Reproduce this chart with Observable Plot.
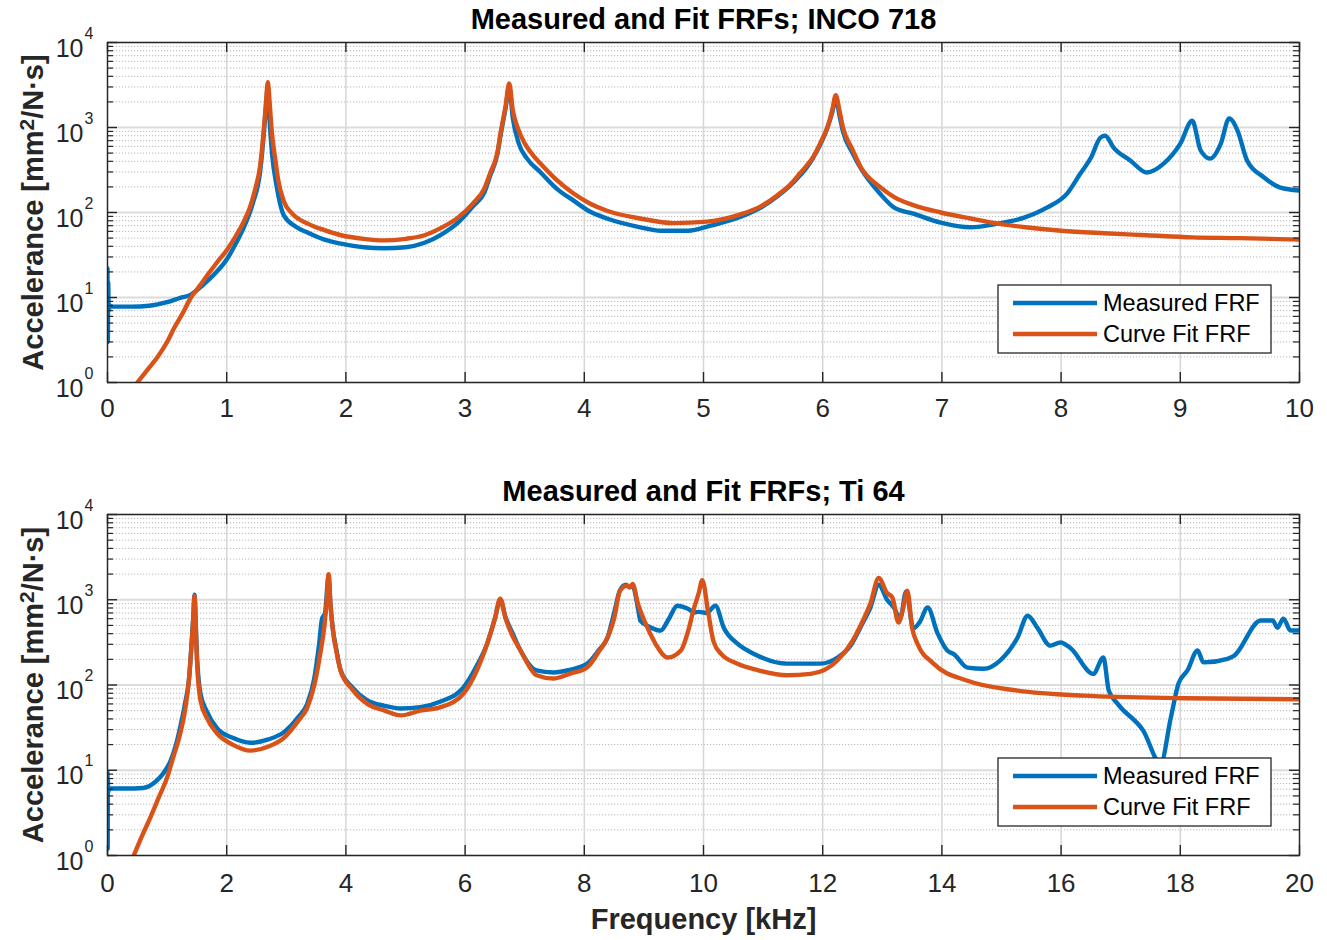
<!DOCTYPE html>
<html><head><meta charset="utf-8">
<script src="https://cdn.jsdelivr.net/npm/d3@7"></script>
<script src="https://cdn.jsdelivr.net/npm/@observablehq/plot@0.6"></script>
<style>
body{margin:0;background:#fff;}
#wrap{position:relative;width:1327px;height:940px;overflow:hidden;}
#top,#bottom{position:absolute;left:0;}
#top{top:0}#bottom{top:470px}
</style></head><body><div id="wrap"><div id="top"></div><div id="bottom"></div></div>
<script>
// ---------- data (frequency kHz, accelerance mm^2/(N·s)) ----------
const titles = ["Measured and Fit FRFs; INCO 718", "Measured and Fit FRFs; Ti 64"];
const seriesNames = ["Measured FRF", "Curve Fit FRF"];
const yLabel = "Accelerance [mm2/N·s]";
const xLabel = "Frequency [kHz]";
const incoTicks = [0,1,2,3,4,5,6,7,8,9,10];
const tiTicks = [0,2,4,6,8,10,12,14,16,18,20];
const decadeTicks = [1,10,100,1000,10000];
const minorTicks = [2,3,4,5,6,7,8,9,20,30,40,50,60,70,80,90,200,300,400,500,600,700,800,900,2000,3000,4000,5000,6000,7000,8000,9000];

const incoMeasured = [[0,22],[0.003,3],[0.006,15],[0.01,7],[0.02,8],[0.05,7.8],[0.2,7.8],[0.35,8.0],[0.42,8.3],[0.5,8.8],[0.6,9.8],[0.7,10.8],[0.8,14],[0.9,19],[1.0,28],[1.08,44],[1.15,70],[1.22,130],[1.28,300],[1.31,800],[1.33,1800],[1.345,3000],[1.36,1200],[1.38,500],[1.42,200],[1.48,92],[1.58,68],[1.68,58],[1.82,48],[1.96,43],[2.15,39],[2.32,38],[2.5,39],[2.66,44],[2.8,55],[2.94,76],[3.07,120],[3.16,170],[3.21,270],[3.27,480],[3.3,850],[3.34,1700],[3.37,3000],[3.4,1300],[3.45,650],[3.52,430],[3.63,300],[3.77,190],[3.91,138],[4.05,102],[4.19,85],[4.47,67],[4.64,61],[4.87,61],[5.06,70],[5.34,92],[5.48,114],[5.62,155],[5.76,230],[5.92,440],[6.04,1000],[6.08,1500],[6.11,2200],[6.14,1400],[6.17,900],[6.25,500],[6.32,330],[6.48,167],[6.6,114],[6.76,97],[6.99,76],[7.24,67],[7.47,74],[7.69,87],[7.88,114],[8.05,167],[8.16,285],[8.25,440],[8.33,760],[8.37,800],[8.44,580],[8.58,410],[8.72,295],[8.86,375],[9.0,645],[9.1,1200],[9.17,540],[9.25,430],[9.34,645],[9.41,1280],[9.48,920],[9.56,410],[9.7,260],[9.84,196],[10,181]];
const incoFit = [[0.25,1.0],[0.35,1.5],[0.42,2.0],[0.5,3.0],[0.56,4.4],[0.63,6.5],[0.7,10],[0.77,13.5],[0.84,18.5],[0.92,26],[1.0,36],[1.08,54],[1.15,82],[1.19,110],[1.24,190],[1.28,350],[1.31,900],[1.33,2000],[1.345,3400],[1.36,2000],[1.375,1000],[1.41,400],[1.43,250],[1.48,135],[1.55,97],[1.68,74],[1.82,62],[1.96,54],[2.15,49],[2.32,47],[2.5,49],[2.66,54],[2.79,65],[2.94,87],[3.07,130],[3.16,190],[3.21,290],[3.27,500],[3.3,900],[3.34,1800],[3.37,3300],[3.4,1600],[3.44,1000],[3.5,650],[3.57,470],[3.63,380],[3.77,240],[3.91,167],[4.05,127],[4.19,105],[4.47,85],[4.75,75],[5.03,78],[5.31,95],[5.48,118],[5.62,160],[5.73,215],[5.81,290],[5.92,450],[6.0,750],[6.04,1000],[6.08,1600],[6.11,2400],[6.14,1600],[6.17,1000],[6.25,550],[6.32,340],[6.48,200],[6.6,152],[6.76,122],[6.99,100],[7.24,85],[7.47,74],[7.7,67],[8.0,61],[8.36,57],[8.72,54],[9.1,51],[9.5,50],[10,48]];

const tiMeasured = [[0,9.4],[0.003,1.2],[0.006,8],[0.01,5.5],[0.03,6.1],[0.3,6.1],[0.6,6.2],[0.83,7.6],[0.95,9.5],[1.06,13],[1.15,20],[1.22,32],[1.3,60],[1.37,122],[1.41,300],[1.44,650],[1.46,1150],[1.48,550],[1.5,230],[1.56,79],[1.66,50],[1.84,31],[2.1,24],[2.4,21],[2.7,23],[2.96,28],[3.2,42],[3.35,60],[3.47,120],[3.55,300],[3.6,600],[3.65,700],[3.71,1900],[3.74,900],[3.78,460],[3.84,260],[3.91,150],[4.1,95],[4.36,66],[4.65,57],[4.92,53],[5.25,55],[5.59,64],[5.97,93],[6.2,170],[6.37,305],[6.5,600],[6.59,1000],[6.68,620],[6.8,400],[6.93,254],[7.2,148],[7.48,140],[7.75,150],[8.05,178],[8.25,260],[8.39,360],[8.5,700],[8.6,1300],[8.7,1500],[8.76,1400],[8.81,1450],[8.9,800],[8.94,570],[9.1,480],[9.28,435],[9.42,600],[9.56,850],[9.73,790],[9.85,710],[9.92,720],[10.05,700],[10.2,850],[10.34,470],[10.57,305],[10.84,233],[11.4,178],[11.96,178],[12.25,210],[12.47,290],[12.65,500],[12.8,810],[12.94,1500],[13.08,1000],[13.2,800],[13.3,600],[13.4,1250],[13.52,460],[13.63,550],[13.76,810],[13.93,400],[14.09,254],[14.2,230],[14.43,160],[14.7,155],[14.98,195],[15.27,360],[15.44,650],[15.6,470],[15.82,290],[15.99,315],[16.16,270],[16.54,135],[16.71,210],[16.8,86],[16.95,60],[17.38,29],[17.67,12],[17.84,41],[17.97,104],[18.12,148],[18.29,254],[18.39,184],[18.79,203],[18.9,220],[19.35,570],[19.55,570],[19.63,470],[19.73,600],[19.85,435],[20,435]];
const tiFit = [[0.44,1.0],[0.58,1.7],[0.72,2.8],[0.86,4.8],[1.0,8.2],[1.1,14],[1.22,27],[1.3,50],[1.37,122],[1.41,300],[1.44,600],[1.46,1100],[1.48,500],[1.5,200],[1.56,66],[1.66,42],[1.84,27],[2.1,20],[2.4,17],[2.7,19],[2.96,24],[3.2,38],[3.35,54],[3.47,100],[3.57,233],[3.64,500],[3.68,1000],[3.71,2000],[3.74,900],[3.78,450],[3.84,250],[3.91,148],[4.1,90],[4.36,60],[4.65,50],[4.92,44],[5.25,50],[5.59,55],[5.97,79],[6.2,150],[6.37,305],[6.5,600],[6.59,1030],[6.68,600],[6.8,370],[6.93,254],[7.2,130],[7.48,119],[7.75,135],[8.05,162],[8.25,250],[8.39,360],[8.5,600],[8.6,1280],[8.72,1470],[8.76,1400],[8.81,1530],[8.9,900],[9.06,470],[9.2,300],[9.4,210],[9.62,254],[9.75,450],[9.83,750],[9.92,1200],[9.98,1700],[10.08,700],[10.17,320],[10.3,230],[10.57,178],[10.9,150],[11.4,130],[11.8,135],[12.25,195],[12.5,330],[12.7,620],[12.8,900],[12.94,1800],[13.08,1200],[13.17,1060],[13.27,540],[13.35,800],[13.42,1280],[13.5,470],[13.59,305],[13.86,178],[14.43,112],[15.27,86],[16.38,75],[18.05,70],[19.97,68]];

// ---------- styling ----------
const FONT = "'Liberation Sans', Arial, Helvetica, sans-serif";
const TXT = "#262626";
const BLUE = "#0072BD", ORANGE = "#D95319";
const W = 1327, H = 470, ML = 107, MR = 28;
const LW = 4.4;

function toRows(pairs){ return pairs.map(([f,v]) => ({f, v})); }

function panel({title, xTicks, xMax, meas, fit, marginTop, marginBottom, tickDy, withXLabel}) {
  const fw = W - ML - MR, fh = H - marginTop - marginBottom;
  const marks = [
    Plot.ruleY(minorTicks, {y: d => d, stroke: "#b8b8b8", strokeWidth: 1, strokeDasharray: "1.2,1.8"}),
    Plot.ruleY(decadeTicks, {y: d => d, stroke: "#dcdcdc", strokeWidth: 2}),
    Plot.ruleX(xTicks, {x: d => d, stroke: "#d6d6d6", strokeWidth: 1.5}),
    Plot.line(toRows(meas), {x: "f", y: "v", stroke: BLUE, strokeWidth: LW, clip: true, curve: "monotone-x", strokeLinejoin: "round"}),
    Plot.line(toRows(fit), {x: "f", y: "v", stroke: ORANGE, strokeWidth: LW, clip: true, curve: "monotone-x", strokeLinejoin: "round"}),
    Plot.frame({stroke: TXT, strokeWidth: 1.4}),
    Plot.tickX(xTicks, {x: d => d, insetTop: fh - 10, stroke: TXT, strokeWidth: 1.4}),
    Plot.tickX(xTicks, {x: d => d, insetBottom: fh - 10, stroke: TXT, strokeWidth: 1.4}),
    Plot.tickY(decadeTicks, {y: d => d, insetRight: fw - 10, stroke: TXT, strokeWidth: 1.4}),
    Plot.tickY(decadeTicks, {y: d => d, insetLeft: fw - 10, stroke: TXT, strokeWidth: 1.4}),
    Plot.tickY(minorTicks, {y: d => d, insetRight: fw - 6, stroke: TXT, strokeWidth: 1.2}),
    Plot.tickY(minorTicks, {y: d => d, insetLeft: fw - 6, stroke: TXT, strokeWidth: 1.2}),
    // x tick labels
    Plot.text(xTicks, {x: d => d, frameAnchor: "bottom", lineAnchor: "top", dy: tickDy, text: d => String(d), fontSize: 26, fill: TXT}),
    // y tick labels 10^n
    Plot.text(decadeTicks, {y: d => d, frameAnchor: "left", dx: -24, dy: 6, textAnchor: "end", lineAnchor: "middle", text: () => "10", fontSize: 25, fill: TXT}),
    Plot.text(decadeTicks, {y: d => d, frameAnchor: "left", dx: -23, dy: -9, textAnchor: "start", lineAnchor: "middle", text: d => String(Math.round(Math.log10(d))), fontSize: 16, fill: TXT}),
    // title
    Plot.text([title], {frameAnchor: "top", lineAnchor: "bottom", dy: -14, text: d => d, fontSize: 29, fontWeight: "bold", fill: "#000"}),
    // y label
    Plot.text([yLabel], {frameAnchor: "left", dx: -74, rotate: -90, textAnchor: "middle", lineAnchor: "middle", text: d => d, fontSize: 29, fontWeight: "bold", fill: TXT})
  ];
  if (withXLabel) {
    marks.push(Plot.text([xLabel], {frameAnchor: "bottom", lineAnchor: "top", dy: 53, text: d => d, fontSize: 29, fontWeight: "bold", fill: TXT}));
  }
  const svg = Plot.plot({
    width: W, height: H,
    marginLeft: ML, marginRight: MR, marginTop, marginBottom,
    x: {domain: [0, xMax], axis: null},
    y: {type: "log", domain: [1, 10000], axis: null},
    style: {fontFamily: FONT, color: TXT, background: "white", overflow: "visible"},
    marks
  });
  // superscript the "2" in the y label (kept as real text)
  d3.select(svg).selectAll("text").filter(function(){ return this.textContent === yLabel; }).each(function(){
    const t = d3.select(this);
    const i = yLabel.indexOf("mm2") + 2;
    t.text(null);
    t.append("tspan").text(yLabel.slice(0, i));
    t.append("tspan").attr("dy", "-0.42em").attr("font-size", "0.72em").text("2");
    t.append("tspan").attr("dy", "0.3em").text(yLabel.slice(i + 1));
  });
  // legend box (inside the frame, lower right)
  const lw = 273, lh = 68;
  const lx = W - MR - 28 - lw;
  const ly = H - marginBottom - 29 - lh;
  const g = d3.select(svg).append("g").attr("font-family", FONT).attr("text-anchor", "start");
  g.append("rect").attr("x", lx).attr("y", ly).attr("width", lw).attr("height", lh)
    .attr("fill", "white").attr("stroke", TXT).attr("stroke-width", 1.3);
  [[BLUE, seriesNames[0], 18], [ORANGE, seriesNames[1], 49]].forEach(([c, name, oy]) => {
    g.append("line").attr("x1", lx + 15).attr("x2", lx + 99).attr("y1", ly + oy).attr("y2", ly + oy)
      .attr("stroke", c).attr("stroke-width", LW);
    g.append("text").attr("x", lx + 105).attr("y", ly + oy).attr("dy", "0.35em")
      .attr("text-anchor", "start").attr("font-size", 23.5).attr("fill", "#000").text(name);
  });
  return svg;
}

document.getElementById("top").append(panel({title: titles[0], xTicks: incoTicks, xMax: 10, meas: incoMeasured, fit: incoFit, marginTop: 42, marginBottom: 88, tickDy: 16, withXLabel: false}));
document.getElementById("bottom").append(panel({title: titles[1], xTicks: tiTicks, xMax: 20, meas: tiMeasured, fit: tiFit, marginTop: 44, marginBottom: 85, tickDy: 18, withXLabel: true}));
</script></body></html>
